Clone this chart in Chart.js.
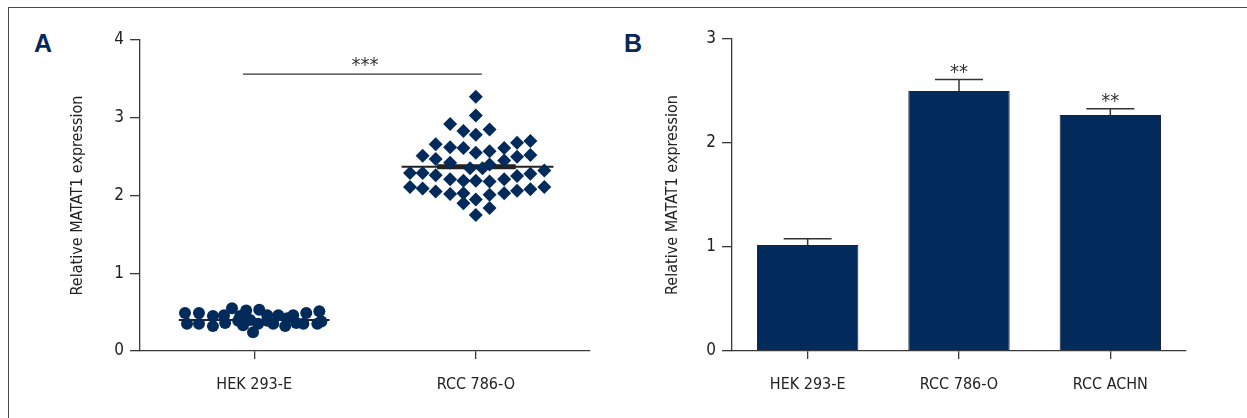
<!DOCTYPE html>
<html><head><meta charset="utf-8">
<script src="https://cdn.jsdelivr.net/npm/chart.js@4.4.0/dist/chart.umd.min.js"></script>
<style>
html,body{margin:0;padding:0;background:#fff;width:1247px;height:418px;overflow:hidden;}
#frame{position:absolute;left:8px;top:7px;width:1260px;height:430px;border-left:1.5px solid #4a4a4a;border-top:1.5px solid #4a4a4a;}
.wrap{position:absolute;top:0;height:418px;}
#wa{left:0;width:615px;}
#wb{left:615px;width:632px;}
.lab{position:absolute;font:bold 25px 'Liberation Sans','Open Sans',sans-serif;color:#06285a;line-height:1;}
</style></head>
<body>
<div id="frame"></div>
<div class="lab" style="left:34px;top:31px;">A</div>
<div class="lab" style="left:624px;top:31px;">B</div>
<div class="wrap" id="wa"><canvas id="ca" width="615" height="418"></canvas></div>
<div class="wrap" id="wb"><canvas id="cb" width="632" height="418"></canvas></div>
<script>
// ---------- data ----------
const groupsA = ['HEK 293-E', 'RCC 786-O'];
const hekJitter = [-0.312,-0.249,-0.186,-0.136,-0.100,-0.063,-0.036,0.023,0.059,0.109,0.149,0.176,0.235,0.294,
                   -0.303,-0.249,-0.186,-0.131,-0.072,-0.050,-0.018,0.018,0.059,0.086,0.140,0.190,0.222,0.285,0.303,-0.005];
const hekValues = [0.49,0.49,0.45,0.46,0.55,0.45,0.52,0.53,0.46,0.46,0.42,0.46,0.49,0.51,
                   0.35,0.35,0.32,0.36,0.39,0.33,0.40,0.35,0.39,0.35,0.32,0.36,0.35,0.35,0.38,0.24];
const rccJitter = [0,0,-0.116,-0.056,0.062,0,-0.181,-0.116,-0.056,0.186,0.246,0.128,0.062,0,
                   -0.240,-0.181,-0.116,0.186,0.246,0.128,0.062,-0.026,0.030,-0.297,-0.240,-0.181,0.246,0.186,0.309,
                   -0.297,-0.240,-0.181,-0.116,-0.056,0,0.062,0.128,-0.116,-0.056,0,0.062,0.128,0.186,0.246,0.309,
                   -0.056,0.062,0];
const rccValues = [3.27,3.03,2.92,2.83,2.85,2.78,2.66,2.62,2.61,2.68,2.70,2.61,2.57,2.55,
                   2.51,2.47,2.42,2.50,2.52,2.45,2.40,2.35,2.35,2.29,2.29,2.26,2.28,2.25,2.32,
                   2.11,2.09,2.05,2.21,2.19,2.19,2.18,2.21,2.02,2.03,1.95,2.01,2.03,2.06,2.08,2.11,
                   1.90,1.84,1.75];
const meansA = [0.40, 2.37];
const sigA = {y: 3.56, label: '***'};
const yTicksA = [0, 1, 2, 3, 4];

const groupsB = ['HEK 293-E', 'RCC 786-O', 'RCC ACHN'];
const meansB = [1.02, 2.50, 2.27];
const errB = [0.06, 0.11, 0.06];
const starsB = ['', '**', '**'];
const yTicksB = [0, 1, 2, 3];
const yTitle = 'Relative MATAT1 expression';

// ---------- styles ----------
const NAVY = '#022a5a';
const AX = '#3a3a3a';
const FONT = "'Liberation Sans Narrow','DejaVu Sans Condensed','Roboto','Liberation Sans',sans-serif";

function yAxis(max, ticks, width) {
  return {
    min: 0, max: max,
    afterBuildTicks: s => { s.ticks = ticks.map(v => ({value: v})); },
    afterFit: s => { s.width = width; },
    grid: {drawOnChartArea: false, drawTicks: true, tickLength: 10, color: AX, lineWidth: 1.3},
    border: {display: true, color: AX, width: 1.3},
    ticks: {color: '#222', font: {family: FONT, size: 17}, padding: 6},
    title: {display: true, text: yTitle, color: '#222', font: {family: FONT, size: 16}, padding: {top: 2, bottom: 0}}
  };
}

// ---------- panel A ----------
const hekPts = hekValues.map((v, i) => ({x: 1 + hekJitter[i], y: v}));
const rccPts = rccValues.map((v, i) => ({x: 2 + rccJitter[i], y: v}));

const textPlugin = {
  id: 'sigText',
  afterDatasetsDraw(chart, args, opts) {
    const ctx = chart.ctx;
    ctx.save();
    ctx.fillStyle = '#333';
    ctx.font = '20px ' + FONT;
    ctx.textAlign = 'center';
    ctx.textBaseline = 'alphabetic';
    (opts.items || []).forEach(it => {
      const x = chart.scales.x.getPixelForValue(it.x);
      const y = chart.scales.y.getPixelForValue(it.y);
      ctx.fillText(it.text, x, y - 3);
    });
    ctx.restore();
  }
};

new Chart(document.getElementById('ca'), {
  type: 'scatter',
  data: {
    datasets: [
      {data: rccPts, pointStyle: 'rectRot', pointRadius: 7, backgroundColor: NAVY, borderColor: NAVY, borderWidth: 0, order: 0},
      {data: hekPts, pointStyle: 'circle', pointRadius: 6, backgroundColor: NAVY, borderColor: NAVY, borderWidth: 0, order: 0},
      {type: 'line', data: [{x: 1 - 0.34, y: meansA[0]}, {x: 1 + 0.34, y: meansA[0]}], borderColor: '#222', borderWidth: 2, pointRadius: 0, order: 2},
      {type: 'line', data: [{x: 2 - 0.335, y: meansA[1]}, {x: 2 + 0.35, y: meansA[1]}], borderColor: '#222', borderWidth: 2, pointRadius: 0, order: 2},
      {type: 'line', data: [{x: 2 - 0.175, y: meansA[1]}, {x: 2 + 0.18, y: meansA[1]}], borderColor: '#222', borderWidth: 5, pointRadius: 0, order: 1},
      {type: 'line', data: [{x: 0.95, y: sigA.y}, {x: 2.027, y: sigA.y}], borderColor: '#333', borderWidth: 1.3, pointRadius: 0, order: 2}
    ]
  },
  options: {
    responsive: false, animation: false, events: [],
    layout: {padding: {left: 66, right: 25, top: 40, bottom: 0}},
    plugins: {legend: {display: false}, tooltip: {enabled: false},
      sigText: {items: [{x: 1.5, y: sigA.y, text: sigA.label}]}},
    scales: {
      x: {
        type: 'linear', min: 0.485, max: 2.515,
        afterBuildTicks: s => { s.ticks = [{value: 1}, {value: 2}]; },
        afterFit: s => { s.height = 67; },
        grid: {drawOnChartArea: false, drawTicks: true, tickLength: 8, color: AX, lineWidth: 1.3},
        border: {display: true, color: AX, width: 1.3},
        ticks: {color: '#222', font: {family: FONT, size: 16}, padding: 16, maxRotation: 0,
                callback: v => groupsA[v - 1]}
      },
      y: yAxis(4, yTicksA, 74)
    }
  },
  plugins: [textPlugin]
});

// ---------- panel B ----------
const errPlugin = {
  id: 'errBars',
  afterDatasetsDraw(chart) {
    const ctx = chart.ctx;
    const meta = chart.getDatasetMeta(0);
    const ys = chart.scales.y;
    ctx.save();
    meta.data.forEach((bar, i) => {
      const top = ys.getPixelForValue(meansB[i]);
      const cap = ys.getPixelForValue(meansB[i] + errB[i]);
      ctx.strokeStyle = '#333';
      ctx.lineWidth = 1.5;
      ctx.beginPath();
      ctx.moveTo(bar.x, top); ctx.lineTo(bar.x, cap);
      ctx.moveTo(bar.x - 24, cap); ctx.lineTo(bar.x + 24, cap);
      ctx.stroke();
      if (starsB[i]) {
        ctx.fillStyle = '#333';
        ctx.font = '20px ' + FONT;
        ctx.textAlign = 'center';
        ctx.textBaseline = 'alphabetic';
        ctx.fillText(starsB[i], bar.x, cap - 2);
      }
    });
    ctx.restore();
  }
};

new Chart(document.getElementById('cb'), {
  type: 'bar',
  data: {
    labels: groupsB,
    datasets: [{data: meansB, backgroundColor: NAVY, borderColor: '#1c2433', borderWidth: 1,
                barPercentage: 0.67, categoryPercentage: 1.0}]
  },
  options: {
    responsive: false, animation: false, events: [],
    layout: {padding: {left: 46, right: 61, top: 39, bottom: 0}},
    plugins: {legend: {display: false}, tooltip: {enabled: false}},
    scales: {
      x: {
        afterFit: s => { s.height = 67; },
        grid: {drawOnChartArea: false, drawTicks: true, tickLength: 8, color: AX, lineWidth: 1.3, offset: false},
        border: {display: true, color: AX, width: 1.3},
        ticks: {color: '#222', font: {family: FONT, size: 16}, padding: 16, maxRotation: 0}
      },
      y: yAxis(3, yTicksB, 71)
    }
  },
  plugins: [errPlugin]
});
</script>
</body></html>
